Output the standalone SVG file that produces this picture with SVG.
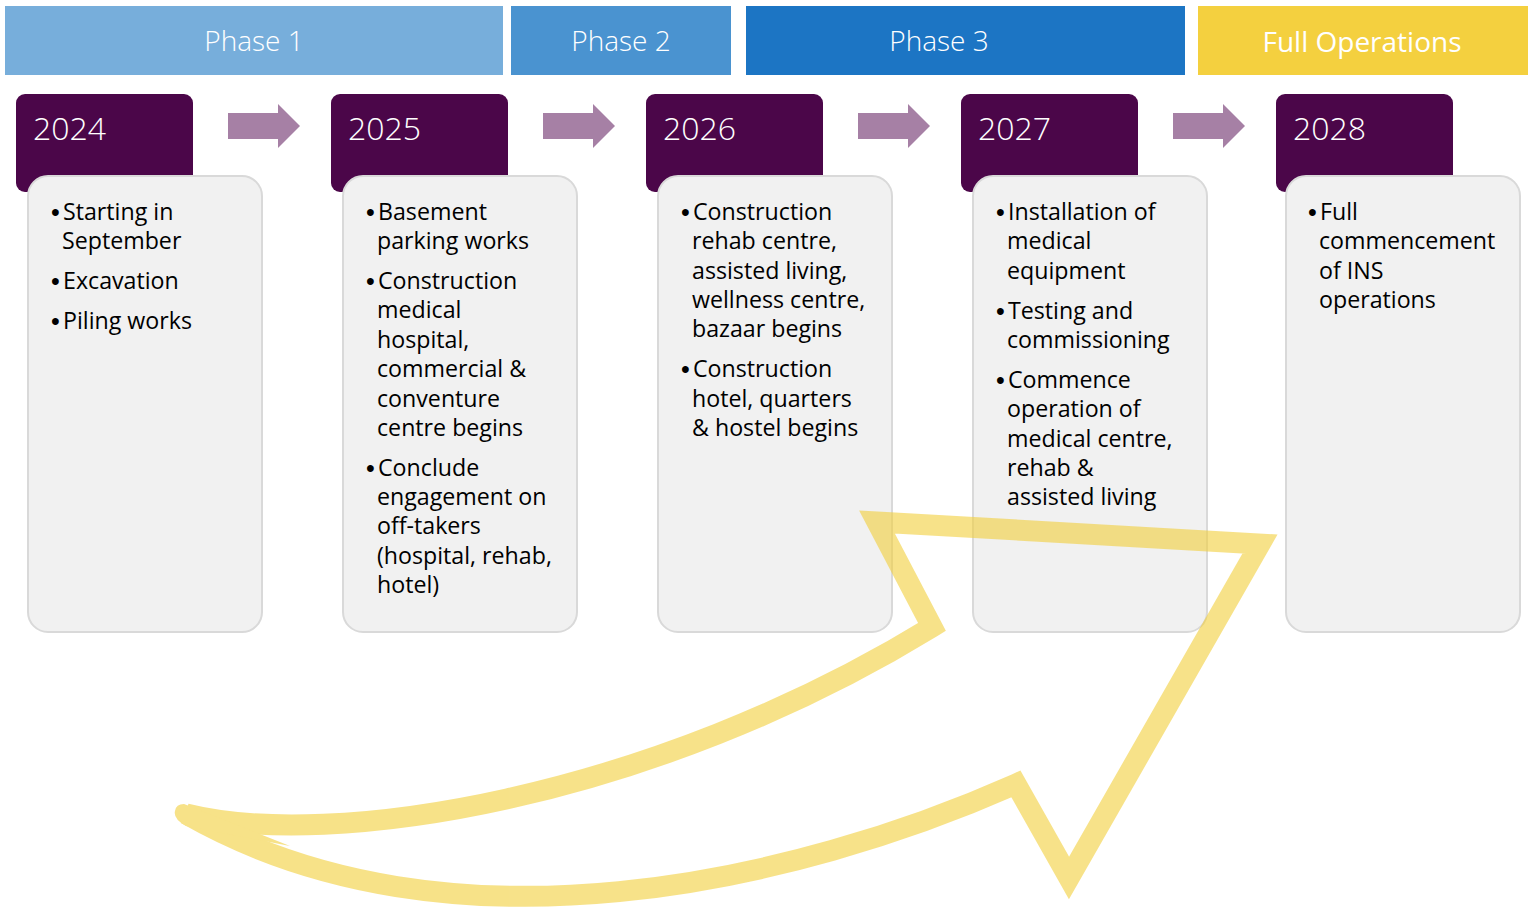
<svg xmlns="http://www.w3.org/2000/svg" width="1535" height="908" viewBox="0 0 1535 908">
<style>
.ph{font-family:"Open Sans","Liberation Sans",sans-serif;font-weight:300;font-size:28px;fill:#fff;text-anchor:middle}
.fo{font-family:"Open Sans","Liberation Sans",sans-serif;font-weight:400;font-size:28px;fill:#fff;text-anchor:middle}
.tab{fill:#4B0649}
.yr{font-family:"Open Sans","Liberation Sans",sans-serif;font-weight:300;font-size:32px;fill:#fff}
.box{fill:#F1F1F1;stroke:#D9D9D9;stroke-width:2}
.bt{font-family:"Open Sans","Liberation Sans",sans-serif;font-size:23.2px;fill:#000}
.bu{font-family:"Liberation Sans",Arial,sans-serif;font-size:25px}
.ar{fill:#A680A5}
.big{fill:none;stroke:#F2CF3A;stroke-width:21;stroke-linejoin:miter;stroke-miterlimit:6}
</style>
<defs>
<path id="garrow" d="M0 9 H50 V0 L72 22 L50 44 V35 H0 Z"/>
</defs>
<rect width="1535" height="908" fill="#fff"/>
<g id="phases">
<rect x="5" y="6" width="498" height="69" fill="#77AEDB"/>
<text class="ph" x="254" y="51">Phase 1</text>
<rect x="511" y="6" width="220" height="69" fill="#4A93D0"/>
<text class="ph" x="621" y="51">Phase 2</text>
<rect x="746" y="6" width="439" height="69" fill="#1C75C4"/>
<text class="ph" x="939" y="51">Phase 3</text>
<rect x="1198" y="6" width="330" height="69" fill="#F4D03F"/>
<text class="fo" x="1362" y="52">Full Operations</text>
</g>
<g id="connectors">
<use href="#garrow" class="ar" x="228" y="104"/>
<use href="#garrow" class="ar" x="543" y="104"/>
<use href="#garrow" class="ar" x="858" y="104"/>
<use href="#garrow" class="ar" x="1173" y="104"/>
</g>
<g id="y2024">
<rect class="tab" x="16" y="94" width="177" height="98" rx="9"/>
<text class="yr" x="33" y="140">2024</text>
<rect class="box" x="28" y="176" width="234" height="456" rx="20"/>
<text class="bt"><tspan class="bu" x="51" y="221">•</tspan><tspan x="63" y="220">Starting in</tspan><tspan x="62" y="249">September</tspan><tspan class="bu" x="51" y="290">•</tspan><tspan x="63" y="289">Excavation</tspan><tspan class="bu" x="51" y="330">•</tspan><tspan x="63" y="329">Piling works</tspan></text>
</g>
<g id="y2025">
<rect class="tab" x="331" y="94" width="177" height="98" rx="9"/>
<text class="yr" x="348" y="140">2025</text>
<rect class="box" x="343" y="176" width="234" height="456" rx="20"/>
<text class="bt"><tspan class="bu" x="366" y="221">•</tspan><tspan x="378" y="220">Basement</tspan><tspan x="377" y="249">parking works</tspan><tspan class="bu" x="366" y="290">•</tspan><tspan x="378" y="289">Construction</tspan><tspan x="377" y="318">medical</tspan><tspan x="377" y="348">hospital,</tspan><tspan x="377" y="377">commercial &amp;</tspan><tspan x="377" y="407">conventure</tspan><tspan x="377" y="436">centre begins</tspan><tspan class="bu" x="366" y="477">•</tspan><tspan x="378" y="476">Conclude</tspan><tspan x="377" y="505">engagement on</tspan><tspan x="377" y="534">off-takers</tspan><tspan x="377" y="564">(hospital, rehab,</tspan><tspan x="377" y="593">hotel)</tspan></text>
</g>
<g id="y2026">
<rect class="tab" x="646" y="94" width="177" height="98" rx="9"/>
<text class="yr" x="663" y="140">2026</text>
<rect class="box" x="658" y="176" width="234" height="456" rx="20"/>
<text class="bt"><tspan class="bu" x="681" y="221">•</tspan><tspan x="693" y="220">Construction</tspan><tspan x="692" y="249">rehab centre,</tspan><tspan x="692" y="279">assisted living,</tspan><tspan x="692" y="308">wellness centre,</tspan><tspan x="692" y="337">bazaar begins</tspan><tspan class="bu" x="681" y="378">•</tspan><tspan x="693" y="377">Construction</tspan><tspan x="692" y="407">hotel, quarters</tspan><tspan x="692" y="436">&amp; hostel begins</tspan></text>
</g>
<g id="y2027">
<rect class="tab" x="961" y="94" width="177" height="98" rx="9"/>
<text class="yr" x="978" y="140">2027</text>
<rect class="box" x="973" y="176" width="234" height="456" rx="20"/>
<text class="bt"><tspan class="bu" x="996" y="221">•</tspan><tspan x="1008" y="220">Installation of</tspan><tspan x="1007" y="249">medical</tspan><tspan x="1007" y="279">equipment</tspan><tspan class="bu" x="996" y="320">•</tspan><tspan x="1008" y="319">Testing and</tspan><tspan x="1007" y="348">commissioning</tspan><tspan class="bu" x="996" y="389">•</tspan><tspan x="1008" y="388">Commence</tspan><tspan x="1007" y="417">operation of</tspan><tspan x="1007" y="447">medical centre,</tspan><tspan x="1007" y="476">rehab &amp;</tspan><tspan x="1007" y="505">assisted living</tspan></text>
</g>
<g id="y2028">
<rect class="tab" x="1276" y="94" width="177" height="98" rx="9"/>
<text class="yr" x="1293" y="140">2028</text>
<rect class="box" x="1286" y="176" width="234" height="456" rx="20"/>
<text class="bt"><tspan class="bu" x="1308" y="221">•</tspan><tspan x="1320" y="220">Full</tspan><tspan x="1319" y="249">commencement</tspan><tspan x="1319" y="279">of INS</tspan><tspan x="1319" y="308">operations</tspan></text>
</g>
<g id="curved-arrow" opacity="0.6">
<path class="big" d="M877 522 L1260 544 L1069 878 L1016 784 C800 880 450 965 186 814 C330 850 650 800 932 627 Z"/>
<path d="M175 811 Q176 804 184 804 L290 846 L186 826 Q173 819 175 811 Z" fill="#F2CF3A"/>
</g>
</svg>
